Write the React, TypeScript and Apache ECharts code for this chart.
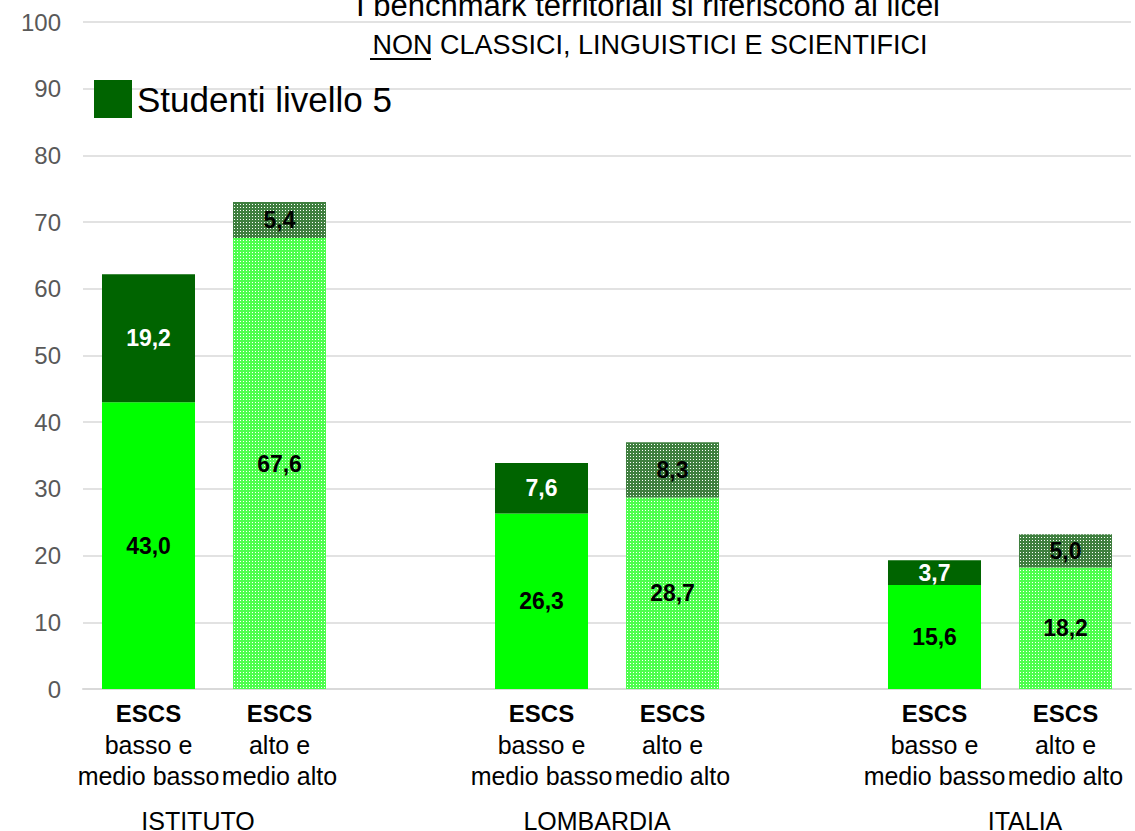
import React, { useEffect, useRef } from "react";
import * as echarts from "echarts";

const categories = [
  "ESCS|basso e|medio basso",
  "ESCS|alto e|medio alto",
  "",
  "ESCS|basso e|medio basso",
  "ESCS|alto e|medio alto",
  "",
  "ESCS|basso e|medio basso",
  "ESCS|alto e|medio alto",
];
const groupLabels = ["ISTITUTO", "LOMBARDIA", "ITALIA"];
const baseLow = [43.0, null, null, 26.3, null, null, 15.6, null];
const baseHigh = [null, 67.6, null, null, 28.7, null, null, 18.2];
const topLow = [19.2, null, null, 7.6, null, null, 3.7, null];
const topHigh = [null, 5.4, null, null, 8.3, null, null, 5.0];
const legendName = "Studenti livello 5";
const titleLine1 = "I benchmark territoriali si riferiscono ai licei";
const titleLine2Under = "NON";
const titleLine2Rest = " CLASSICI, LINGUISTICI E SCIENTIFICI";
const yTicks = { min: 0, max: 100, interval: 10 };

const BRIGHT = "#00FF00";
const DARK = "#006400";
const BRIGHT_PAT = "#4dff4d";
const DARK_PAT = "#3f7f3f";
const SANS = '"Liberation Sans", Arial, sans-serif';

const decal = {
  symbol: "rect",
  symbolSize: 1,
  color: "#ffffff",
  dashArrayX: [1, 2],
  dashArrayY: [1, 2],
  rotation: 0,
};

const fmt = (p: any) => (p.value == null ? "" : Number(p.value).toFixed(1).replace(".", ","));

export default function App() {
  const ref = useRef<HTMLDivElement>(null);
  useEffect(() => {
    if (!ref.current) return;
    const chart = echarts.init(ref.current, undefined, { renderer: "svg" });
    const labelBase = (color: string) => ({
      show: true,
      position: "inside",
      formatter: fmt,
      color,
      fontSize: 23,
      fontWeight: "bold",
      fontFamily: SANS,
    });
    const mk = (name: string, data: any[], color: string, labelColor: string, withDecal: boolean) => ({
      name,
      type: "bar",
      stack: "s",
      data,
      barWidth: "71%",
      itemStyle: withDecal ? { color, decal } : { color },
      label: labelBase(labelColor),
    });
    chart.setOption({
      animation: false,
      grid: { left: 83, right: 4, top: 22, bottom: 142 },
      legend: {
        data: [{ name: legendName, icon: "rect", itemStyle: { color: DARK } }],
        left: 89,
        top: 75,
        itemWidth: 38,
        itemHeight: 38,
        itemGap: 10,
        textStyle: { fontSize: 35, color: "#000", fontFamily: SANS },
        selectedMode: false,
      },
      xAxis: {
        type: "category",
        data: categories,
        axisLine: { lineStyle: { color: "#d9d9d9", width: 2 } },
        axisTick: { show: false },
        axisLabel: {
          interval: 0,
          margin: 9,
          formatter: (v: string) => {
            if (!v) return "";
            const parts = v.split("|");
            return `{b|${parts[0]}}\n{r|${parts[1]}}\n{r|${parts[2]}}`;
          },
          rich: {
            b: { fontSize: 24, fontWeight: "bold", color: "#000", fontFamily: SANS, lineHeight: 31 },
            r: { fontSize: 25, color: "#000", fontFamily: SANS, lineHeight: 31 },
          },
        },
      },
      yAxis: {
        type: "value",
        min: yTicks.min,
        max: yTicks.max,
        interval: yTicks.interval,
        axisLabel: { fontSize: 24, color: "#595959", fontFamily: SANS, margin: 22 },
        splitLine: { lineStyle: { color: "#d9d9d9", width: 1.5 } },
        axisLine: { show: false },
        axisTick: { show: false },
      },
      series: [
        mk("base basso", baseLow, BRIGHT, "#000", false),
        mk("base alto", baseHigh, BRIGHT_PAT, "#000", true),
        mk(legendName, topLow, DARK, "#fff", false),
        mk("top alto", topHigh, DARK_PAT, "#000", true),
      ],
      graphic: [
        {
          type: "text",
          x: 648,
          y: -10,
          style: { text: titleLine1, fontSize: 31, fontFamily: SANS, fill: "#000", textAlign: "center" },
        },
        {
          type: "text",
          x: 650,
          y: 31,
          style: {
            text: titleLine2Under + titleLine2Rest,
            fontSize: 27,
            fontFamily: SANS,
            fill: "#000",
            textAlign: "center",
          },
        },
        {
          type: "line",
          shape: { x1: 370, y1: 59, x2: 431, y2: 59 },
          style: { stroke: "#000", lineWidth: 2 },
        },
        ...groupLabels.map((g, i) => ({
          type: "text",
          x: [198, 597, 1025][i],
          y: 808,
          style: { text: g, fontSize: 25, fontFamily: SANS, fill: "#000", textAlign: "center" },
        })),
      ],
    });
    return () => chart.dispose();
  }, []);
  return <div ref={ref} style={{ width: 1135, height: 831, position: "absolute", left: 0, top: 0 }} />;
}
